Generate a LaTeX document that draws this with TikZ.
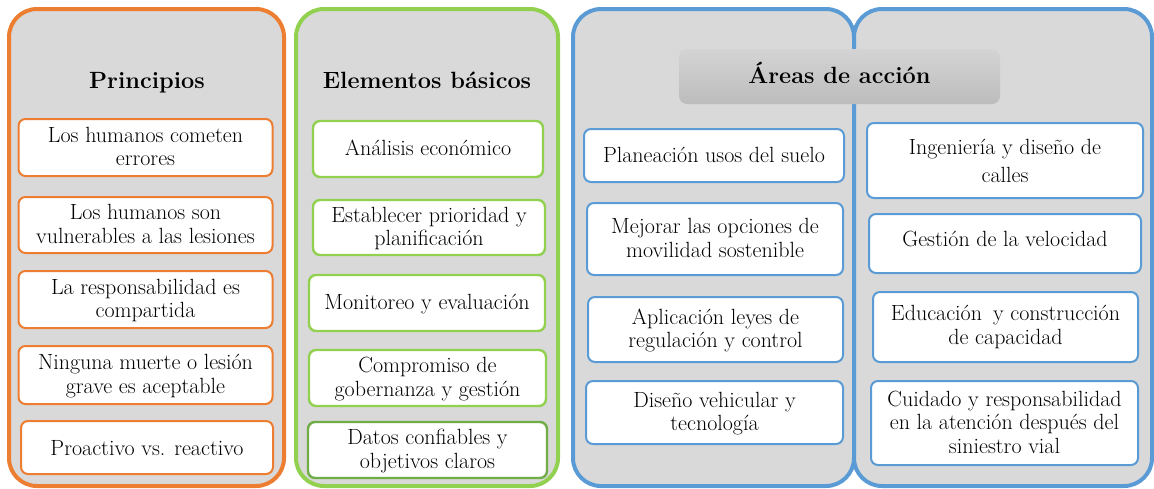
\documentclass[tikz,border=0pt]{standalone}
\definecolor{oc}{HTML}{ED7D31}
\definecolor{gc}{HTML}{92D050}
\definecolor{gdc}{HTML}{70AD47}
\definecolor{bc}{HTML}{5B9BD5}
\definecolor{pgray}{HTML}{D9D9D9}
\definecolor{ttop}{HTML}{D4D4D4}
\definecolor{tbot}{HTML}{BCBCBC}
\begin{document}
\begin{tikzpicture}[x=1pt,y=-1pt,
  panel/.style={rectangle, rounded corners=28pt, line width=4pt, fill=pgray, inner sep=0pt},
  box/.style={rectangle, rounded corners=7pt, fill=white, line width=2pt, inner sep=0pt},
  obox/.style={box, draw=oc},
  gbox/.style={box, draw=gc, line width=2.4pt},
  bbox/.style={box, draw=bc},
  txt/.style={font=\fontsize{22}{23.5}\selectfont, align=center, inner sep=0pt, yshift=-2pt},
  ttl/.style={font=\fontsize{23.5}{28}\selectfont\bfseries, anchor=base, inner sep=0pt}]
\useasboundingbox (0,0) rectangle (1154,488);

% panels
\node[panel, draw=oc, minimum width=275, minimum height=477] (pO) at (146.5,247.5) {};
\node[panel, draw=gc, minimum width=262, minimum height=477] (pG) at (427,247.5) {};
\node[panel, draw=bc, minimum width=281, minimum height=477] (pB1) at (713.5,247.5) {};
\node[panel, draw=bc, minimum width=298, minimum height=477] (pB2) at (1003,247.5) {};

% titles
\node[ttl] (tO) at (147,88) {Principios};
\node[ttl] (tG) at (427,88) {Elementos básicos};
\node[rectangle, rounded corners=8pt, top color=ttop, bottom color=tbot, draw=none,
      minimum width=321, minimum height=55, inner sep=0pt] (tBbox) at (839.5,76.5) {};
\node[ttl] (tB) at (839.5,83) {Áreas de acción};

% orange boxes
\node[obox, minimum width=254, minimum height=57] (o1) at (145.5,147.5) {};
\node[txt] (o1t) at (o1) {\strut Los humanos cometen\\errores\strut};
\node[obox, minimum width=254, minimum height=56] (o2) at (145.5,225) {};
\node[txt] (o2t) at (o2) {\strut Los humanos son\\vulnerables a las lesiones\strut};
\node[obox, minimum width=254, minimum height=57] (o3) at (145.5,299.5) {};
\node[txt] (o3t) at (o3) {\strut La responsabilidad es\\compartida\strut};
\node[obox, minimum width=254, minimum height=58] (o4) at (145.5,375) {};
\node[txt] (o4t) at (o4) {\strut Ninguna muerte o lesión\\grave es aceptable\strut};
\node[obox, minimum width=252, minimum height=53] (o5) at (147,447.5) {};
\node[txt, yshift=-1pt] (o5t) at (o5) {\strut Proactivo vs. reactivo\strut};

% green boxes
\node[gbox, minimum width=230, minimum height=56] (g1) at (428,149) {};
\node[txt] (g1t) at (g1) {\strut Análisis económico\strut};
\node[gbox, minimum width=232, minimum height=55] (g2) at (429,227.5) {};
\node[txt] (g2t) at (g2) {\strut Establecer prioridad y\\planificación\strut};
\node[gbox, minimum width=236, minimum height=56] (g3) at (427,303) {};
\node[txt] (g3t) at (g3) {\strut Monitoreo y evaluación\strut};
\node[gbox, minimum width=237, minimum height=56] (g4) at (427.5,378) {};
\node[txt] (g4t) at (g4) {\strut Compromiso de\\gobernanza y gestión\strut};
\node[gbox, draw=gdc, minimum width=239, minimum height=56] (g5) at (427.5,450) {};
\node[txt] (g5t) at (g5) {\strut Datos confiables y\\objetivos claros\strut};

% blue left boxes
\node[bbox, minimum width=260, minimum height=53] (b1) at (714,155.5) {};
\node[txt] (b1t) at (b1) {\strut Planeación usos del suelo\strut};
\node[bbox, minimum width=256, minimum height=72] (b2) at (715,239) {};
\node[txt] (b2t) at (b2) {\strut Mejorar las opciones de\\movilidad sostenible\strut};
\node[bbox, minimum width=255, minimum height=65] (b3) at (715.5,329.5) {};
\node[txt] (b3t) at (b3) {\strut Aplicación leyes de\\regulación y control\strut};
\node[bbox, minimum width=257, minimum height=63] (b4) at (714.5,412.5) {};
\node[txt] (b4t) at (b4) {\strut Diseño vehicular y\\tecnología\strut};

% blue right boxes
\node[bbox, minimum width=276, minimum height=75] (c1) at (1005,160.5) {};
\node[txt, yshift=-1.5pt] (c1t) at (c1) {\strut Ingeniería y diseño de\\[4.5pt]calles\strut};
\node[bbox, minimum width=272, minimum height=59] (c2) at (1005,243.5) {};
\node[txt, yshift=4pt] (c2t) at (c2) {\strut Gestión de la velocidad\strut};
\node[bbox, minimum width=265, minimum height=70] (c3) at (1005.5,327) {};
\node[txt, yshift=1pt] (c3t) at (c3) {\strut Educación\hspace{0.5em}y construcción\\de capacidad\strut};
\node[bbox, minimum width=267, minimum height=84] (c4) at (1004.5,423) {};
\node[txt] (c4t) at (c4) {\strut Cuidado y responsabilidad\\en la atención después del\\siniestro vial\strut};
\end{tikzpicture}
\end{document}
